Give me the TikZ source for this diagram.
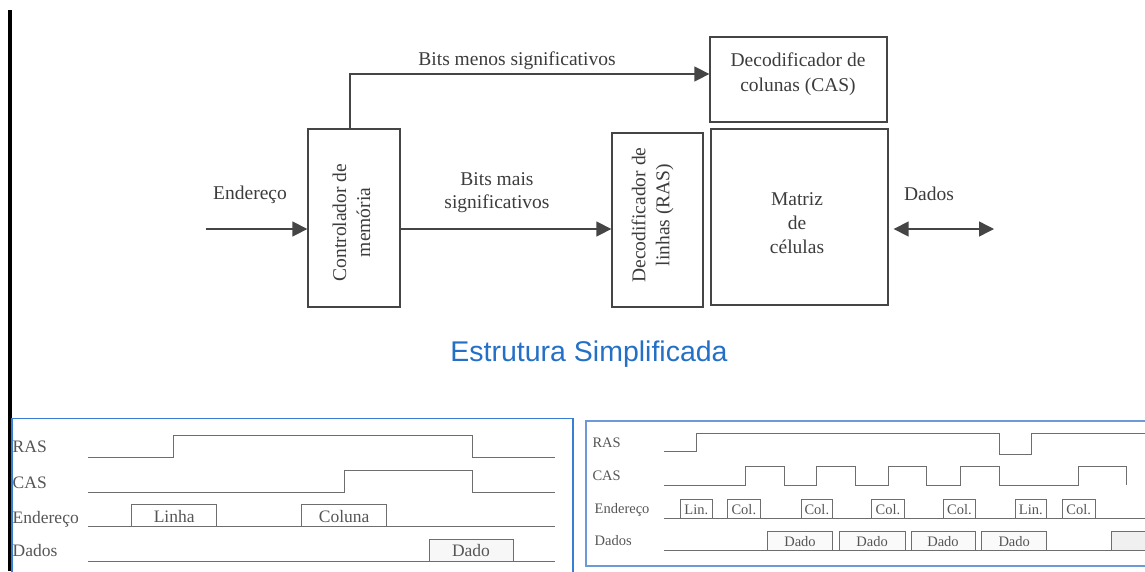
\documentclass[tikz,border=0pt]{standalone}
\usepackage{fontspec}
\setmainfont{Liberation Serif}[Ligatures=TeX]
\newfontfamily\diagfont{Liberation Serif}
\newfontfamily\headfont{Liberation Sans}
\usetikzlibrary{arrows.meta,calc}

\definecolor{ink}{HTML}{3C3C3C}
\definecolor{wire}{HTML}{454545}
\definecolor{sig}{HTML}{6E6E6E}
\definecolor{sigtext}{HTML}{555555}
\definecolor{titleblue}{HTML}{2470C6}
\definecolor{frameA}{HTML}{3A7ED3}
\definecolor{frameB}{HTML}{6C9AD6}

\begin{document}
\begin{tikzpicture}[x=1pt,y=-1pt,
  box/.style={draw=wire,line width=1.3pt,inner sep=0pt},
  lbl/.style={text=ink,font=\diagfont\fontsize{19.5}{24}\selectfont,inner sep=0pt},
  tip/.tip={Triangle[length=15pt,width=15pt]},
  arr/.style={draw=wire,line width=1.4pt,-tip},
  dblarr/.style={draw=wire,line width=1.4pt,tip-tip},
  wave/.style={draw=sig,line width=1pt},
  slblA/.style={text=sigtext,font=\diagfont\fontsize{17.5}{20}\selectfont,inner sep=0pt,anchor=base west},
  sboxA/.style={text=sigtext,font=\diagfont\fontsize{17.5}{20}\selectfont,inner sep=0pt,anchor=base},
  slblB/.style={text=sigtext,font=\diagfont\fontsize{14.5}{17}\selectfont,inner sep=0pt,anchor=base west},
  sboxB/.style={text=sigtext,font=\diagfont\fontsize{14.5}{17}\selectfont,inner sep=0pt,anchor=base},
]
\useasboundingbox (0,0) rectangle (1145,571);
\clip (0,0) rectangle (1145,571);

% left margin bar
\fill[black] (7.5,10) rectangle (12,571);

% ---------------- block diagram ----------------
\node[box,minimum width=92pt,minimum height=178pt] (ctrl) at (354,218) {};
\node[box,minimum width=177pt,minimum height=85pt] (cas) at (798.5,79.5) {};
\node[box,minimum width=91pt,minimum height=174pt] (ras) at (657.5,220) {};
\node[box,minimum width=177pt,minimum height=176pt] (mat) at (799.5,217) {};

\node[lbl,rotate=90,align=center] (ctrltxt) at (351.5,222.5) {Controlador de\\memória};
\node[lbl,rotate=90,align=center] (rastxt) at (652.5,215) {Decodificador de\\linhas (RAS)};
\node[lbl,anchor=base] (castxt1) at (798,66.7) {Decodificador de};
\node[lbl,anchor=base] (castxt2) at (798,91.7) {colunas (CAS)};
\node[lbl,anchor=base] (mattxt1) at (797,205) {Matriz};
\node[lbl,anchor=base] (mattxt2) at (797,229) {de};
\node[lbl,anchor=base] (mattxt3) at (797,253) {células};

% connectors
\coordinate (ein) at (206,229);
\coordinate (lsb) at (350,74);
\coordinate (msb) at (0,229);
\coordinate (dout) at (994,229);

\draw[arr] (ein) -- (ein -| ctrl.west);
\draw[arr] (ctrl.north -| lsb) -- (lsb) -- (lsb -| cas.west);
\draw[arr] (ctrl.east |- msb) -- (ras.west |- msb);
\draw[dblarr] ($(mat.east |- dout)+(5,0)$) -- (dout);

\node[lbl,anchor=base] (lblend) at (250,199) {Endereço};
\node[lbl,anchor=base] (lbllsb) at (517,65) {Bits menos significativos};
\node[lbl,anchor=base] (lblmsb1) at (497,185) {Bits mais};
\node[lbl,anchor=base] (lblmsb2) at (497,208) {significativos};
\node[lbl,anchor=base] (lbldat) at (929,200) {Dados};

\node[text=titleblue,font=\headfont\fontsize{28.5}{32}\selectfont,inner sep=0pt,anchor=base] (title) at (589,361) {Estrutura Simplificada};

% ---------------- timing: single access ----------------
\draw[frameA,line width=1.6pt] (12,418.3) rectangle (572.7,590);

\node[slblA] (aras) at (12.5,452.7) {RAS};
\node[slblA] (acas) at (12.5,488.3) {CAS};
\node[slblA] (aend) at (12.5,523.3) {Endereço};
\node[slblA] (adat) at (12.5,556.7) {Dados};

\draw[wave] (88,457.3) -- (173,457.3) -- (173,435) -- (472,435) -- (472,457.3) -- (555,457.3);
\draw[wave] (88,492.3) -- (344.3,492.3) -- (344.3,470) -- (472,470) -- (472,492.3) -- (555,492.3);
\draw[wave] (88,526.7) -- (555,526.7);
\draw[wave] (131.7,526.7) rectangle (216.7,504.3);
\draw[wave] (301.7,526.7) rectangle (386.7,504.3);
\draw[wave] (88,561) -- (555,561);
\draw[wave,fill=black!3] (429,561) rectangle (513.3,539.3);
\node[sboxA] (alin) at (174.2,522.3) {Linha};
\node[sboxA] (acol) at (344.2,522.3) {Coluna};
\node[sboxA] (adado) at (471,556.7) {Dado};

% ---------------- timing: page mode ----------------
\draw[frameB,line width=2pt] (585.7,421) rectangle (1160,565.7);

\node[slblB] (bras) at (592.3,447.7) {RAS};
\node[slblB] (bcas) at (592.3,480) {CAS};
\node[slblB] (bend) at (594.5,513.3) {Endereço};
\node[slblB] (bdat) at (594.5,545) {Dados};

\draw[wave] (664.3,451.7) -- (696.7,451.7) -- (696.7,433.3) -- (999,433.3) -- (999,454.3)
  -- (1031,454.3) -- (1031,433.3) -- (1145,433.3);
\draw[wave] (664.3,485) -- (745,485) -- (745,466) -- (784.3,466) -- (784.3,485)
  -- (816.7,485) -- (816.7,466) -- (855.5,466) -- (855.5,485)
  -- (888,485) -- (888,466) -- (926.7,466) -- (926.7,485)
  -- (960,485) -- (960,466) -- (999,466) -- (999,485)
  -- (1078.3,485) -- (1078.3,466) -- (1126.7,466) -- (1126.7,485);
\draw[wave] (664.3,518.3) -- (1145,518.3);
\draw[wave] (664.3,550.7) -- (1145,550.7);

\foreach \xa/\xb/\t [count=\i] in {680/712.7/Lin., 727.7/760/Col., 801/832.7/Col., 871.7/904.3/Col.,
                                   943.3/975.7/Col., 1015/1046.7/Lin., 1062.3/1095/Col.}{
  \draw[wave] (\xa,518.3) rectangle (\xb,499);
  \node[sboxB] (baddr\i) at ({(\xa+\xb)/2},514.3) {\t};
}
\foreach \xa/\xb [count=\i] in {767.3/832.7, 839.3/905, 911/975, 981.7/1046.7}{
  \draw[wave,fill=black!2] (\xa,550.7) rectangle (\xb,531);
  \node[sboxB] (bdado\i) at ({(\xa+\xb)/2},546.7) {Dado};
}
\draw[wave,fill=black!6] (1111,550.7) rectangle (1160,531);
\end{tikzpicture}
\end{document}
